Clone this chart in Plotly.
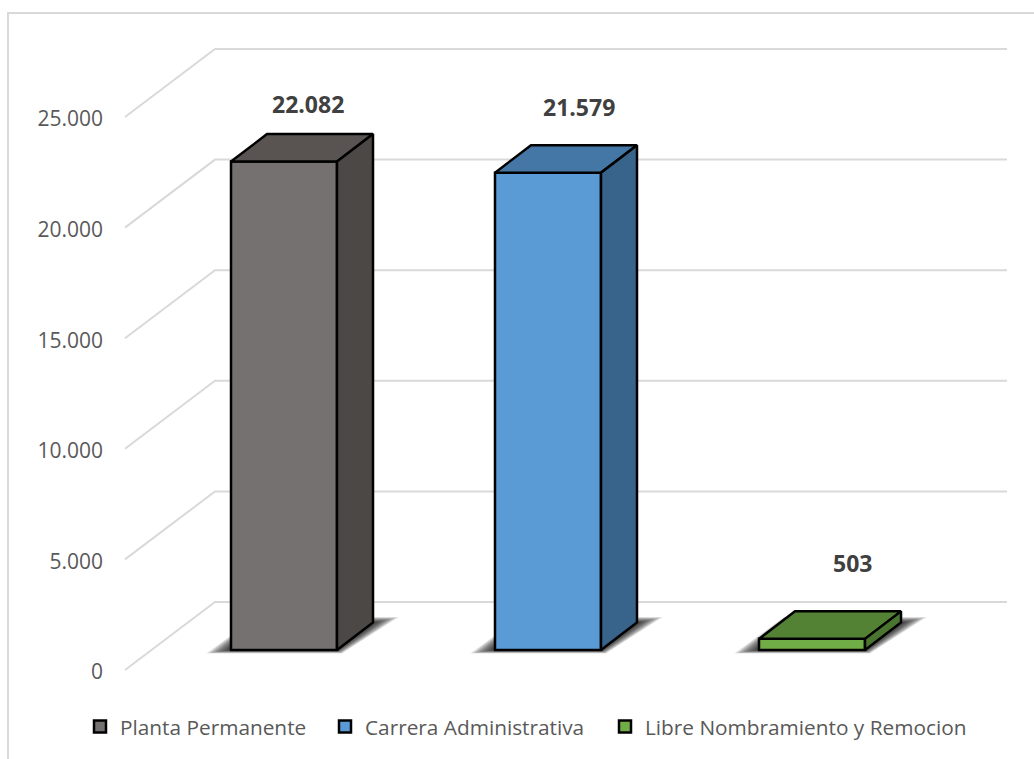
import plotly.graph_objects as go

CATEGORIES = ["Planta Permanente", "Carrera Administrativa", "Libre Nombramiento y Remocion"]
VALUES = [22082, 21579, 503]
TICK_VALUES = [0, 5000, 10000, 15000, 20000, 25000]
TICK_LABELS = ["0", "5.000", "10.000", "15.000", "20.000", "25.000"]

FRONT_COLORS = ["#767171", "#5B9BD5", "#70AD47"]
TOP_COLORS = ["#595452", "#4477A5", "#548235"]
SIDE_COLORS = ["#4C4846", "#38638A", "#4A7530"]

W, H = 1034, 759
BASE_PX = 650
WALL_PX = 670
TICK_TEXT_PX = 672
BACK_PX = 602
CENTER0_PX = 284
STEP_PX = 264
BAR_W_PX = 106
DX_PX, DY_PX = 36, 27.5
P = 0.02212  # pixels per unit
LABEL_OFFSETS = [(24, -57.5), (31, -65.7), (40, -75.9)]
LEGEND_WIDTHS = [200, 235, 330]
FONT = "Open Sans"
TEXT = "#595959"
GRID = "#D9D9D9"
EDGE = 2.5


def xd(px):
    return (px - CENTER0_PX) / STEP_PX


def yd(px):
    return (BASE_PX - px) / P


def dxd(px):
    return px / STEP_PX


def dyd(px):
    return px / P


fig = go.Figure()
half = dxd(BAR_W_PX) / 2
shapes = []

# frame
shapes.append(dict(type="path", xref="paper", yref="paper", layer="below",
                   path=f"M {8/W} 0 L {8/W} {1-13/H} L 1 {1-13/H}",
                   line=dict(color=GRID, width=2)))
# gridlines on wall and back plane
for t in TICK_VALUES:
    y_front = t + yd(WALL_PX)
    y_back = t + yd(BACK_PX)
    shapes.append(dict(type="path", xref="x", yref="y", layer="below",
                       path=f"M {xd(125)} {y_front} L {xd(215)} {y_back} L {xd(1007)} {y_back}",
                       line=dict(color=GRID, width=2)))

# floor shadows: stacked translucent polygons give the soft edge
LAYERS = 18
for i in range(len(VALUES)):
    for k in range(LAYERS):
        f = k / (LAYERS - 1)
        x0, x1 = i - half, i + half
        pts = [
            (x0 + dxd(-25 + 25 * f), dyd(-3.5 + 4 * f)),
            (x1 + dxd(5 - 5 * f), dyd(-3.5 + 4 * f)),
            (x1 + dxd(62 - 26 * f), dyd(33 - 6 * f)),
            (x0 + dxd(25), dyd(33 - 6 * f)),
        ]
        path = "M " + " L ".join(f"{a} {c}" for a, c in pts) + " Z"
        shapes.append(dict(type="path", xref="x", yref="y", layer="below", path=path,
                           fillcolor="rgba(0,0,0,0.075)", line=dict(width=0)))

# front faces + legend
for i, (name, v) in enumerate(zip(CATEGORIES, VALUES)):
    fig.add_trace(go.Bar(x=[i], y=[v], width=dxd(BAR_W_PX), name=name,
                         legendwidth=LEGEND_WIDTHS[i],
                         marker=dict(color=FRONT_COLORS[i], line=dict(color="black", width=EDGE)),
                         hoverinfo="skip"))

# top and side faces
for i, v in enumerate(VALUES):
    x0, x1 = i - half, i + half
    dx, dy = dxd(DX_PX), dyd(DY_PX)
    fig.add_trace(go.Scatter(x=[x0, x1, x1 + dx, x0 + dx, x0], y=[v, v, v + dy, v + dy, v],
                             mode="lines", fill="toself", fillcolor=TOP_COLORS[i],
                             line=dict(color="black", width=EDGE), showlegend=False, hoverinfo="skip"))
    fig.add_trace(go.Scatter(x=[x1, x1 + dx, x1 + dx, x1, x1], y=[0, dy, v + dy, v, 0],
                             mode="lines", fill="toself", fillcolor=SIDE_COLORS[i],
                             line=dict(color="black", width=EDGE), showlegend=False, hoverinfo="skip"))

# carrier for the value axis
fig.add_trace(go.Scatter(x=[0] * len(TICK_VALUES), y=TICK_VALUES, yaxis="y2", mode="lines",
                         line=dict(width=0), showlegend=False, hoverinfo="skip"))

annotations = []
for i, v in enumerate(VALUES):
    ox, oy = LABEL_OFFSETS[i]
    annotations.append(dict(x=i + dxd(ox), y=v - dyd(oy), xref="x", yref="y",
                            text=f"<b>{v:,}</b>".replace(",", "."), showarrow=False,
                            xanchor="center", yanchor="middle",
                            font=dict(family=FONT, size=23, color="#404040")))

fig.update_layout(
    width=W, height=H, autosize=False,
    margin=dict(l=0, r=0, t=0, b=0, pad=0),
    paper_bgcolor="white", plot_bgcolor="white",
    barmode="overlay",
    shapes=shapes, annotations=annotations,
    xaxis=dict(range=[xd(0), xd(W)], visible=False, fixedrange=True),
    yaxis=dict(range=[yd(H), yd(0)], visible=False, fixedrange=True),
    yaxis2=dict(range=[(TICK_TEXT_PX - H) / P, TICK_TEXT_PX / P], overlaying="y", anchor="free",
                position=103 / W, side="left", showgrid=False, zeroline=False, showline=False,
                tickmode="array", tickvals=TICK_VALUES, ticktext=TICK_LABELS, ticks="",
                tickfont=dict(family=FONT, size=21, color=TEXT), fixedrange=True),
    legend=dict(orientation="h", x=80 / W, xanchor="left", y=1 - 727 / H, yanchor="middle",
                font=dict(family=FONT, size=20.8, color=TEXT), bgcolor="rgba(0,0,0,0)",
                itemclick=False, itemdoubleclick=False),
    showlegend=True,
)

fig.write_html("out.html", config=dict(displayModeBar=False),
               post_script="document.body.style.margin='0';document.body.style.overflow='hidden';")
